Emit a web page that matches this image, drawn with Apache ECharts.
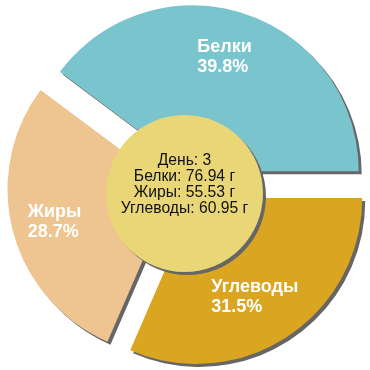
<!DOCTYPE html>
<html>
<head>
<meta charset="utf-8">
<script src="https://cdn.jsdelivr.net/npm/echarts@6/dist/echarts.min.js"></script>
<style>
html,body{margin:0;padding:0;background:#fff;}
#chart{width:370px;height:370px;}
</style>
</head>
<body>
<div id="chart"></div>
<script>
const categories = ['Белки', 'Жиры', 'Углеводы'];
const grams = [76.94, 55.53, 60.95];
const dayLabel = 'День';
const dayNumber = 3;
const unit = 'г';

const colors = ['#7AC5CD', '#EEC591', '#DAA520'];
const pieCenter = [188, 185.5];
const chart = echarts.init(document.getElementById('chart'), null, {renderer: 'canvas'});

const sliceData = categories.map((c, i) => ({
  name: c, value: grams[i], selected: true,
  itemStyle: {color: colors[i]}
}));
const labelData = categories.map((c, i) => ({
  name: c, value: grams[i], selected: true
}));

const centerText = [dayLabel + ': ' + dayNumber]
  .concat(categories.map((c, i) => c + ': ' + grams[i].toFixed(2) + ' ' + unit))
  .join('\n');

// small per-slice label nudges (layout only)
const labelNudge = [[-7, 2], [0, 1], [-9, -4]];

chart.setOption({
  animation: false,
  series: [
    {
      type: 'pie',
      center: pieCenter,
      radius: [0, 166],
      startAngle: 0,
      clockwise: false,
      selectedMode: 'multiple',
      selectedOffset: 15,
      silent: true,
      percentPrecision: 1,
      label: {show: false},
      labelLine: {show: false},
      emphasis: {disabled: true},
      itemStyle: {
        shadowColor: '#666666',
        shadowBlur: 0,
        shadowOffsetX: 3,
        shadowOffsetY: 3
      },
      data: sliceData,
      z: 1
    },
    {
      type: 'pie',
      center: pieCenter,
      radius: [74, 166],
      startAngle: 0,
      clockwise: false,
      selectedMode: 'multiple',
      selectedOffset: 15,
      silent: true,
      percentPrecision: 1,
      itemStyle: {color: 'rgba(0,0,0,0)'},
      emphasis: {disabled: true},
      labelLine: {show: false},
      labelLayout: function (p) {
        const n = labelNudge[p.dataIndex] || [0, 0];
        return {dx: n[0], dy: n[1]};
      },
      label: {
        show: true,
        position: 'inside',
        formatter: '{a|{b}}\n{a|{d}%}',
        rich: {
          a: {
            color: '#ffffff',
            fontFamily: 'Liberation Sans, Arial, sans-serif',
            fontWeight: 'bold',
            fontSize: 18,
            lineHeight: 20,
            align: 'left'
          }
        }
      },
      data: labelData,
      z: 2
    },
    {
      type: 'pie',
      center: [184.5, 193.5],
      radius: [0, 78.5],
      silent: true,
      emphasis: {disabled: true},
      labelLine: {show: false},
      itemStyle: {
        color: '#E9D677',
        shadowColor: '#666666',
        shadowBlur: 0,
        shadowOffsetX: 3,
        shadowOffsetY: 3
      },
      label: {
        show: true,
        position: 'center',
        formatter: centerText,
        color: '#111111',
        fontFamily: 'Liberation Sans, Arial, sans-serif',
        fontSize: 15.7,
        lineHeight: 16,
        offset: [0, -9]
      },
      data: [{name: 'center', value: 1}],
      z: 3
    }
  ]
});
</script>
</body>
</html>
